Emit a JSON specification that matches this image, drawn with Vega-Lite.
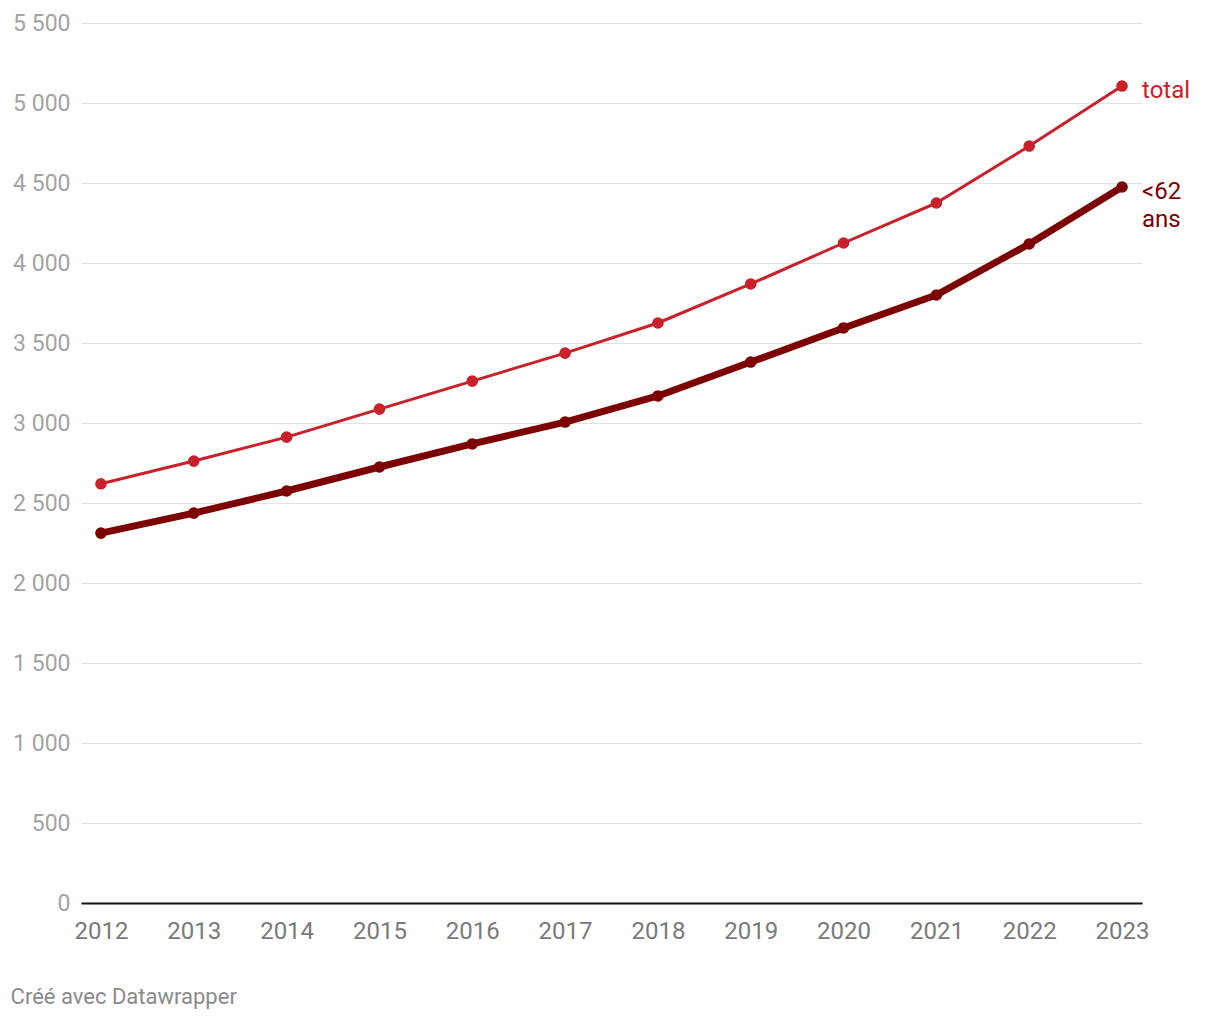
{
  "$schema": "https://vega.github.io/schema/vega-lite/v6.json",
  "width": 1061,
  "height": 880,
  "autosize": {"type": "none"},
  "padding": {"left": 81, "top": 23, "right": 78, "bottom": 117},
  "background": "white",
  "title": {
    "text": "Créé avec Datawrapper",
    "orient": "bottom",
    "anchor": "start",
    "frame": "bounds",
    "font": "Roboto",
    "fontSize": 22,
    "fontWeight": "normal",
    "color": "#8a8a8a",
    "offset": 44,
    "dx": -2
  },
  "config": {"view": {"stroke": null}},
  "data": {
    "values": [
      {"year": 2012, "serie": "total", "value": 2620},
      {"year": 2013, "serie": "total", "value": 2762},
      {"year": 2014, "serie": "total", "value": 2912},
      {"year": 2015, "serie": "total", "value": 3087},
      {"year": 2016, "serie": "total", "value": 3262},
      {"year": 2017, "serie": "total", "value": 3437},
      {"year": 2018, "serie": "total", "value": 3625},
      {"year": 2019, "serie": "total", "value": 3869},
      {"year": 2020, "serie": "total", "value": 4125},
      {"year": 2021, "serie": "total", "value": 4375},
      {"year": 2022, "serie": "total", "value": 4731},
      {"year": 2023, "serie": "total", "value": 5106},
      {"year": 2012, "serie": "<62 ans", "value": 2312},
      {"year": 2013, "serie": "<62 ans", "value": 2437},
      {"year": 2014, "serie": "<62 ans", "value": 2575},
      {"year": 2015, "serie": "<62 ans", "value": 2725},
      {"year": 2016, "serie": "<62 ans", "value": 2869},
      {"year": 2017, "serie": "<62 ans", "value": 3006},
      {"year": 2018, "serie": "<62 ans", "value": 3169},
      {"year": 2019, "serie": "<62 ans", "value": 3381},
      {"year": 2020, "serie": "<62 ans", "value": 3594},
      {"year": 2021, "serie": "<62 ans", "value": 3800},
      {"year": 2022, "serie": "<62 ans", "value": 4119},
      {"year": 2023, "serie": "<62 ans", "value": 4475}
    ]
  },
  "encoding": {
    "x": {
      "field": "year",
      "type": "ordinal",
      "scale": {"type": "point", "padding": 0.215},
      "axis": {
        "title": null,
        "labelAngle": 0,
        "ticks": false,
        "grid": false,
        "domain": true,
        "domainColor": "#111111",
        "domainWidth": 2,
        "labelFont": "Roboto",
        "labelFontSize": 24,
        "labelColor": "#7a7a7a",
        "labelPadding": 16,
        "zindex": 1
      }
    },
    "y": {
      "field": "value",
      "type": "quantitative",
      "scale": {"domain": [0, 5500], "nice": false},
      "axis": {
        "title": null,
        "values": [0, 500, 1000, 1500, 2000, 2500, 3000, 3500, 4000, 4500, 5000, 5500],
        "labelExpr": "replace(format(datum.value, ','), ',', ' ')",
        "domain": false,
        "ticks": false,
        "grid": true,
        "gridColor": "#e2e2e2",
        "gridWidth": 1,
        "labelFont": "Roboto",
        "labelFontSize": 23,
        "labelColor": "#a3a3a3",
        "labelPadding": 11
      }
    },
    "color": {
      "field": "serie",
      "type": "nominal",
      "scale": {"domain": ["total", "<62 ans"], "range": ["#c9202a", "#7d0000"]},
      "legend": null
    }
  },
  "layer": [
    {
      "mark": {"type": "line", "strokeCap": "round", "strokeJoin": "round"},
      "encoding": {
        "strokeWidth": {
          "field": "serie",
          "type": "nominal",
          "scale": {"domain": ["total", "<62 ans"], "range": [3, 7]},
          "legend": null
        }
      }
    },
    {
      "mark": {"type": "point", "filled": true, "opacity": 1, "size": 135}
    },
    {
      "transform": [{"filter": "datum.year == 2023 && datum.serie == 'total'"}],
      "mark": {"type": "text", "align": "left", "baseline": "middle", "dx": 20, "dy": 5, "font": "Roboto", "fontSize": 24},
      "encoding": {"text": {"field": "serie"}}
    },
    {
      "transform": [{"filter": "datum.year == 2023 && datum.serie == '<62 ans'"}],
      "mark": {"type": "text", "align": "left", "baseline": "top", "dx": 20, "dy": -7, "font": "Roboto", "fontSize": 24, "lineBreak": " ", "lineHeight": 28},
      "encoding": {"text": {"field": "serie"}}
    }
  ]
}
